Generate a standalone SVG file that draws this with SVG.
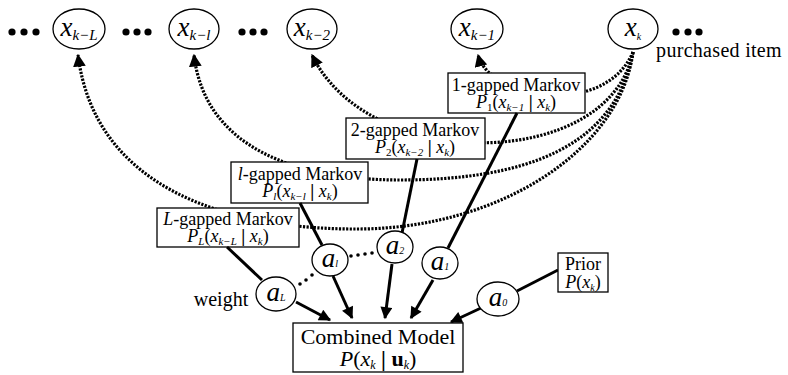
<svg xmlns="http://www.w3.org/2000/svg" width="788" height="375" viewBox="0 0 788 375" font-family="'Liberation Serif', 'Times New Roman', serif">
<defs>
<style>
text{font-family:"Liberation Serif","Times New Roman",serif;fill:#000}
.it{font-style:italic}
.node{fill:#fff;stroke:#000;stroke-width:1.3}
.box{fill:#fff;stroke:#000;stroke-width:1.3}
.dot{fill:none;stroke:#000;stroke-width:3.2;stroke-dasharray:2.2 1.4}
.solid{fill:none;stroke:#000;stroke-width:3}
.lbl{font-size:18px}
.sub{font-size:11px}
.big{font-size:27px;font-style:italic}
.nsub{font-size:15px;font-style:italic}
.wa{font-size:27px;font-style:italic}
.ws{font-size:10px;font-style:italic}
</style>
<marker id="ah" viewBox="0 0 10 10" refX="9" refY="5" markerWidth="4" markerHeight="4" orient="auto" markerUnits="strokeWidth">
<path d="M0,0 L10,5 L0,10 z" fill="#000"/>
</marker>
<marker id="ah2" viewBox="0 0 10 10" refX="9" refY="5" markerWidth="4.5" markerHeight="4" orient="auto" markerUnits="strokeWidth">
<path d="M0,0 L10,5 L0,10 z" fill="#000"/>
</marker>
</defs>
<rect width="788" height="375" fill="#fff"/>

<g id="connectors">
<path class="dot" d="M633,52 C620,150 500,228 360,229 C230,230 95,190 78,55" marker-end="url(#ah)"/>
<path class="dot" d="M633,52 C615,150 520,180 400,180 C300,180 205,150 194,55" marker-end="url(#ah)"/>
<path class="dot" d="M633,52 C610,170 370,175 312,55" marker-end="url(#ah)"/>
<path class="dot" d="M633,52 C605,118 490,100 478,55" marker-end="url(#ah)"/>
</g>

<g id="ellipsis">
<circle cx="12" cy="32" r="3.6"/><circle cx="24" cy="32" r="3.6"/><circle cx="36" cy="32" r="3.6"/>
<circle cx="126" cy="32" r="3.6"/><circle cx="137" cy="32" r="3.6"/><circle cx="148" cy="32" r="3.6"/>
<circle cx="242" cy="32" r="3.6"/><circle cx="253" cy="32" r="3.6"/><circle cx="264" cy="32" r="3.6"/>
<circle cx="676" cy="32" r="3.6"/><circle cx="688" cy="32" r="3.6"/><circle cx="699" cy="32" r="3.6"/>
</g>

<g id="x_kL"><ellipse class="node" cx="79" cy="29" rx="26" ry="20"/>
<text x="79" y="36" text-anchor="middle"><tspan class="big">x</tspan><tspan class="nsub" dy="4">k−L</tspan></text></g>
<g id="x_kl"><ellipse class="node" cx="194" cy="29" rx="25" ry="20"/>
<text x="194" y="36" text-anchor="middle"><tspan class="big">x</tspan><tspan class="nsub" dy="4">k−l</tspan></text></g>
<g id="x_k2"><ellipse class="node" cx="312" cy="29" rx="25" ry="20"/>
<text x="312" y="36" text-anchor="middle"><tspan class="big">x</tspan><tspan class="nsub" dy="4">k−2</tspan></text></g>
<g id="x_k1"><ellipse class="node" cx="477" cy="29" rx="26" ry="20"/>
<text x="477" y="36" text-anchor="middle"><tspan class="big">x</tspan><tspan class="nsub" dy="4">k−1</tspan></text></g>
<g id="x_k"><ellipse class="node" cx="633" cy="29" rx="25" ry="20"/>
<text x="633" y="36" text-anchor="middle"><tspan class="big">x</tspan><tspan class="ws" dy="4">k</tspan></text></g>
<text x="719" y="57" text-anchor="middle" font-size="20" letter-spacing="0.3">purchased item</text>

<g id="m1"><rect class="box" x="448" y="73" width="137" height="40"/>
<text x="516" y="91" text-anchor="middle" class="lbl">1-gapped Markov</text>
<text x="516" y="108" text-anchor="middle" class="lbl"><tspan class="it">P</tspan><tspan class="sub" dy="3">1</tspan><tspan dy="-3">(</tspan><tspan class="it">x</tspan><tspan class="sub it" dy="3">k−1</tspan><tspan dy="-3" font-weight="bold"> | </tspan><tspan class="it">x</tspan><tspan class="sub it" dy="3">k</tspan><tspan dy="-3">)</tspan></text></g>

<g id="m2"><rect class="box" x="346" y="118" width="139" height="41"/>
<text x="415" y="136" text-anchor="middle" class="lbl">2-gapped Markov</text>
<text x="415" y="153" text-anchor="middle" class="lbl"><tspan class="it">P</tspan><tspan class="sub" dy="3">2</tspan><tspan dy="-3">(</tspan><tspan class="it">x</tspan><tspan class="sub it" dy="3">k−2</tspan><tspan dy="-3" font-weight="bold"> | </tspan><tspan class="it">x</tspan><tspan class="sub it" dy="3">k</tspan><tspan dy="-3">)</tspan></text></g>

<g id="ml"><rect class="box" x="231" y="162" width="137" height="41"/>
<text x="300" y="180" text-anchor="middle" class="lbl"><tspan class="it">l</tspan>-gapped Markov</text>
<text x="300" y="197" text-anchor="middle" class="lbl"><tspan class="it">P</tspan><tspan class="sub it" dy="3">l</tspan><tspan dy="-3">(</tspan><tspan class="it">x</tspan><tspan class="sub it" dy="3">k−l</tspan><tspan dy="-3" font-weight="bold"> | </tspan><tspan class="it">x</tspan><tspan class="sub it" dy="3">k</tspan><tspan dy="-3">)</tspan></text></g>

<g id="mL"><rect class="box" x="157" y="208" width="142" height="39"/>
<text x="228" y="225" text-anchor="middle" class="lbl"><tspan class="it">L</tspan>-gapped Markov</text>
<text x="228" y="242" text-anchor="middle" class="lbl"><tspan class="it">P</tspan><tspan class="sub it" dy="3">L</tspan><tspan dy="-3">(</tspan><tspan class="it">x</tspan><tspan class="sub it" dy="3">k−L</tspan><tspan dy="-3" font-weight="bold"> | </tspan><tspan class="it">x</tspan><tspan class="sub it" dy="3">k</tspan><tspan dy="-3">)</tspan></text></g>

<g id="weights-links">
<line class="solid" x1="227" y1="247" x2="262" y2="280"/>
<line class="solid" x1="300" y1="203" x2="322" y2="245"/>
<line class="solid" x1="417" y1="159" x2="402" y2="233"/>
<line class="solid" x1="517" y1="113" x2="448" y2="248"/>
<line class="solid" x1="558" y1="270" x2="517" y2="291"/>
<line class="solid" x1="296" y1="302" x2="330" y2="320" marker-end="url(#ah2)"/>
<line class="solid" x1="333" y1="276" x2="352" y2="318" marker-end="url(#ah2)"/>
<line class="solid" x1="392" y1="264" x2="385" y2="318" marker-end="url(#ah2)"/>
<line class="solid" x1="433" y1="280" x2="411" y2="318" marker-end="url(#ah2)"/>
<line class="solid" x1="481" y1="308" x2="451" y2="322" marker-end="url(#ah2)"/>
<circle cx="300" cy="284" r="1.8"/><circle cx="306" cy="280" r="1.8"/><circle cx="312" cy="275" r="1.8"/>
<circle cx="351" cy="256" r="1.8"/><circle cx="358" cy="255" r="1.8"/><circle cx="365" cy="254" r="1.8"/><circle cx="372" cy="253" r="1.8"/>
</g>

<g id="aL"><ellipse class="node" cx="276" cy="294" rx="20" ry="17"/>
<text x="276" y="301" text-anchor="middle"><tspan class="wa">a</tspan><tspan class="ws">L</tspan></text></g>
<g id="al"><ellipse class="node" cx="330" cy="260" rx="18" ry="16"/>
<text x="330" y="267" text-anchor="middle"><tspan class="wa">a</tspan><tspan class="ws">l</tspan></text></g>
<g id="a2"><ellipse class="node" cx="395" cy="247" rx="18" ry="16"/>
<text x="395" y="254" text-anchor="middle"><tspan class="wa">a</tspan><tspan class="ws">2</tspan></text></g>
<g id="a1"><ellipse class="node" cx="440" cy="263" rx="18" ry="16"/>
<text x="440" y="270" text-anchor="middle"><tspan class="wa">a</tspan><tspan class="ws">1</tspan></text></g>
<g id="a0"><ellipse class="node" cx="498" cy="299" rx="21" ry="17"/>
<text x="498" y="306" text-anchor="middle"><tspan class="wa">a</tspan><tspan class="ws">0</tspan></text></g>
<text x="221" y="306" text-anchor="middle" font-size="20">weight</text>

<g id="prior"><rect class="box" x="558" y="253" width="50" height="39"/>
<text x="583" y="270" text-anchor="middle" font-size="18">Prior</text>
<text x="583" y="288" text-anchor="middle" font-size="18"><tspan class="it">P</tspan>(<tspan class="it">x</tspan><tspan class="it" font-size="10" dy="3">k</tspan><tspan dy="-3">)</tspan></text></g>

<g id="combined"><rect class="box" x="293" y="323" width="170" height="49"/>
<text x="378" y="344" text-anchor="middle" font-size="22">Combined Model</text>
<text x="378" y="366" text-anchor="middle" font-size="22"><tspan class="it">P</tspan>(<tspan class="it">x</tspan><tspan class="it" font-size="12" dy="3">k</tspan><tspan dy="-3" font-weight="bold"> | </tspan><tspan font-weight="bold">u</tspan><tspan class="it" font-size="12" dy="3">k</tspan><tspan dy="-3">)</tspan></text></g>
</svg>
